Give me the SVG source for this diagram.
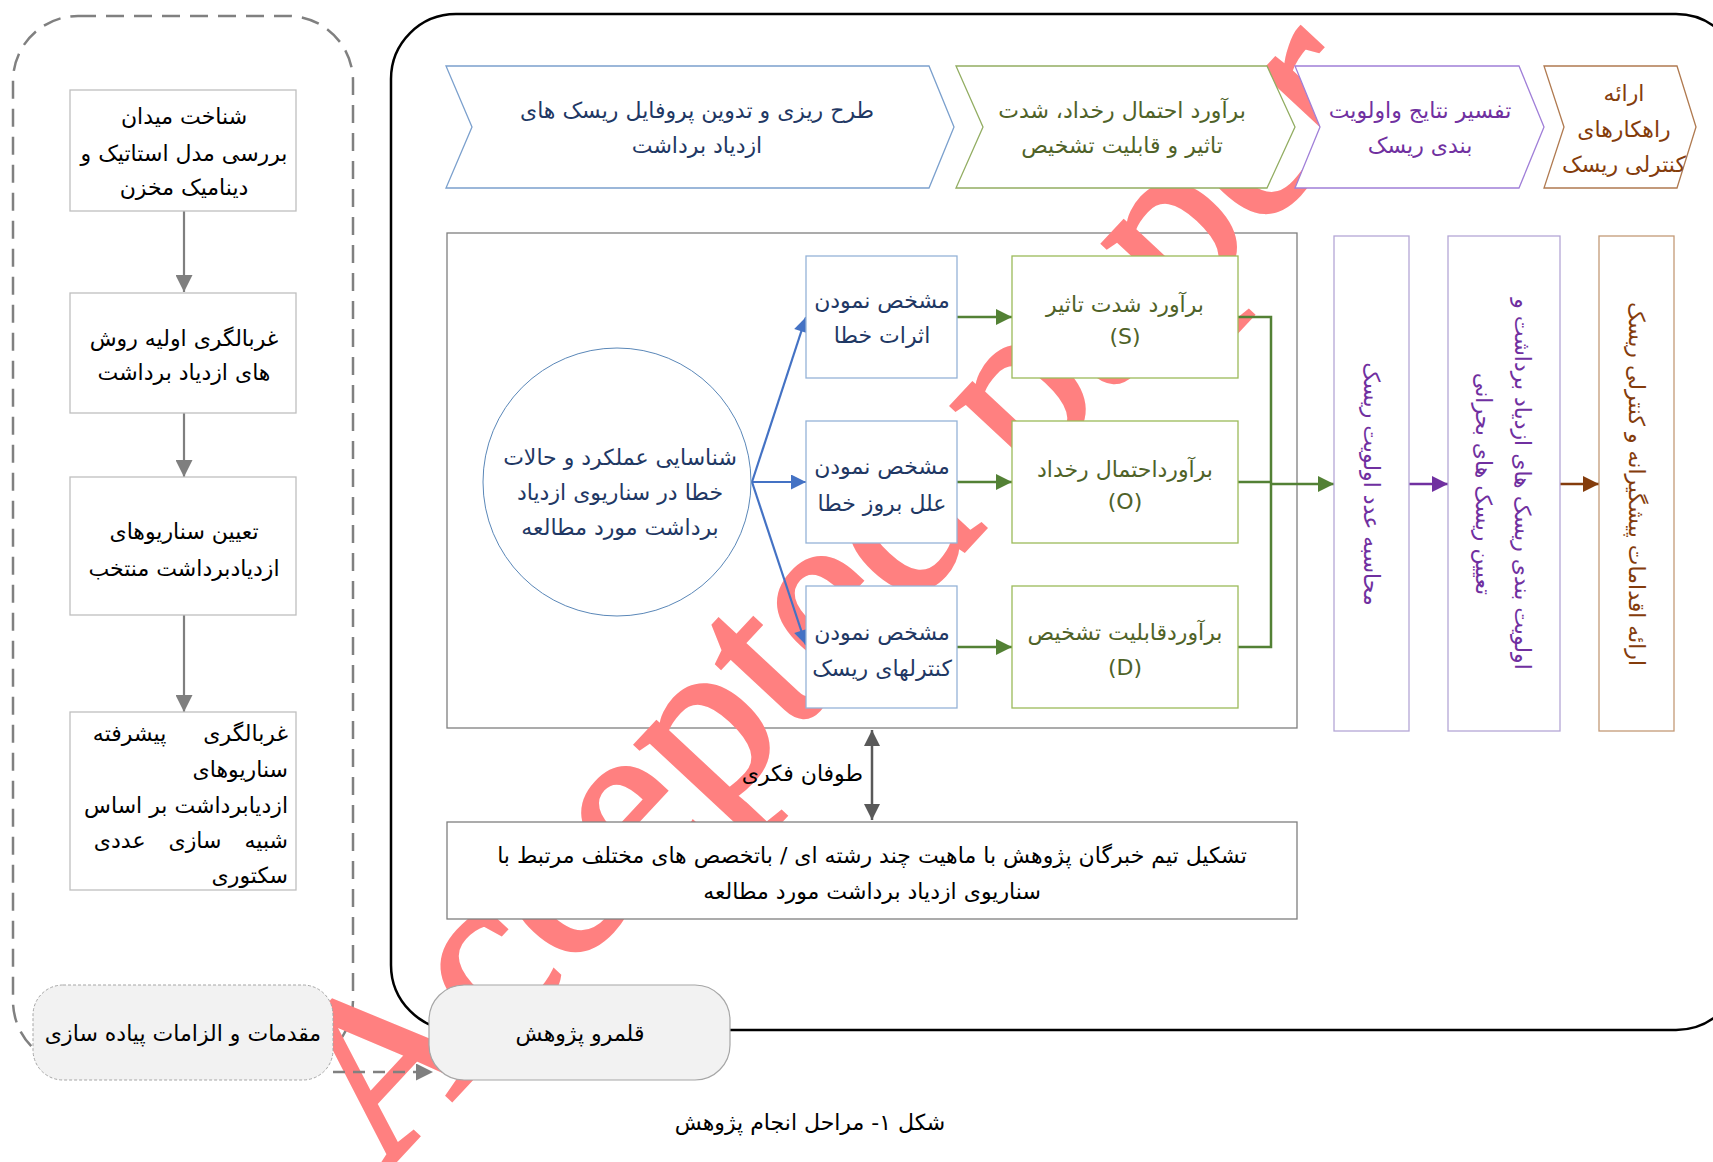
<svg xmlns="http://www.w3.org/2000/svg" width="1713" height="1162" viewBox="0 0 1713 1162">
<defs>
<style>
.fa{font-family:"DejaVu Sans","Noto Sans",sans-serif;font-size:22px;dominant-baseline:central}
.mid{text-anchor:middle}
.end{text-anchor:end}
.blk{fill:#000}
.blu{fill:#1f3864}
.grn{fill:#4f6228}
.pur{fill:#7030a0}
.brn{fill:#843c0c}
.box{fill:#fff;stroke-width:1.3}
.lbox{fill:#fff;stroke:#bfbfbf;stroke-width:1.3}
.wm{font-family:"Liberation Serif",serif;font-size:235px;fill:#ff8080;stroke:#ff8080;stroke-width:4}
</style>
<marker id="mGray" viewBox="0 0 10 10" refX="10" refY="5" markerWidth="19" markerHeight="17" markerUnits="userSpaceOnUse" orient="auto-start-reverse"><path d="M0,0L10,5L0,10z" fill="#7f7f7f"/></marker>
<marker id="mDark" viewBox="0 0 10 10" refX="10" refY="5" markerWidth="18" markerHeight="16" markerUnits="userSpaceOnUse" orient="auto-start-reverse"><path d="M0,0L10,5L0,10z" fill="#595959"/></marker>
<marker id="mBlue" viewBox="0 0 10 10" refX="10" refY="5" markerWidth="19" markerHeight="15" markerUnits="userSpaceOnUse" orient="auto"><path d="M0,0L10,5L0,10z" fill="#4472c4"/></marker>
<marker id="mGreen" viewBox="0 0 10 10" refX="10" refY="5" markerWidth="20" markerHeight="16" markerUnits="userSpaceOnUse" orient="auto"><path d="M0,0L10,5L0,10z" fill="#538135"/></marker>
<marker id="mPur" viewBox="0 0 10 10" refX="10" refY="5" markerWidth="20" markerHeight="16" markerUnits="userSpaceOnUse" orient="auto"><path d="M0,0L10,5L0,10z" fill="#7030a0"/></marker>
<marker id="mBrn" viewBox="0 0 10 10" refX="10" refY="5" markerWidth="20" markerHeight="16" markerUnits="userSpaceOnUse" orient="auto"><path d="M0,0L10,5L0,10z" fill="#843c0c"/></marker>
</defs>
<rect width="1713" height="1162" fill="#fff"/>

<g id="frames">
<rect x="391" y="14" width="1350" height="1016" rx="65" fill="none" stroke="#000" stroke-width="2.5"/>
<rect x="13" y="16" width="340" height="1050" rx="65" fill="none" stroke="#808080" stroke-width="2.5" stroke-dasharray="18 10"/>
<rect id="inner" x="447" y="233" width="850" height="495" fill="none" stroke="#7f7f7f" stroke-width="1.3"/>
</g>

<g id="watermark">
<text class="wm" x="382" y="1175" transform="rotate(-47 382 1175)">Accepted paper</text>
</g>

<g id="chevrons">
<g id="c1"><polygon points="446,66 929,66 954,127 929,188 446,188 472,127" fill="#fff" stroke="#7ba0cd" stroke-width="1.3"/>
<text class="fa mid blu" x="697" y="110" font-size="24">طرح ریزی و تدوین پروفایل ریسک های</text>
<text class="fa mid blu" x="697" y="145" font-size="24">ازدیاد برداشت</text></g>
<g id="c2"><polygon points="956,66 1267,66 1295,127 1267,188 956,188 983,127" fill="#fff" stroke="#92ad62" stroke-width="1.3"/>
<text class="fa mid grn" x="1122" y="110" font-size="24">برآورد احتمال رخداد، شدت</text>
<text class="fa mid grn" x="1122" y="145" font-size="24">تاثیر و قابلیت تشخیص</text></g>
<g id="c3"><polygon points="1295,66 1519,66 1544,127 1519,188 1295,188 1320,127" fill="#fff" stroke="#a07fd8" stroke-width="1.3"/>
<text class="fa mid pur" x="1420" y="110" font-size="24">تفسیر نتایج واولویت</text>
<text class="fa mid pur" x="1420" y="145" font-size="24">بندی ریسک</text></g>
<g id="c4"><polygon points="1544,66 1677,66 1696,127 1677,188 1544,188 1564,127" fill="#fff" stroke="#b07a50" stroke-width="1.3"/>
<text class="fa mid brn" x="1624" y="93">ارائه</text>
<text class="fa mid brn" x="1624" y="129">راهکارهای</text>
<text class="fa mid brn" x="1624" y="164">کنترلی ریسک</text></g>
</g>

<g id="connectors" fill="none">
<line x1="184" y1="211" x2="184" y2="292" stroke="#7f7f7f" stroke-width="2.2" marker-end="url(#mGray)"/>
<line x1="184" y1="413" x2="184" y2="477" stroke="#7f7f7f" stroke-width="2.2" marker-end="url(#mGray)"/>
<line x1="184" y1="615" x2="184" y2="712" stroke="#7f7f7f" stroke-width="2.2" marker-end="url(#mGray)"/>
<line x1="333" y1="1072" x2="433" y2="1072" stroke="#808080" stroke-width="2.5" stroke-dasharray="12 8" marker-end="url(#mGray)"/>
<line x1="752" y1="482" x2="806" y2="317" stroke="#4472c4" stroke-width="2.2" marker-end="url(#mBlue)"/>
<line x1="752" y1="482" x2="806" y2="482" stroke="#4472c4" stroke-width="2.2" marker-end="url(#mBlue)"/>
<line x1="752" y1="482" x2="806" y2="645" stroke="#4472c4" stroke-width="2.2" marker-end="url(#mBlue)"/>
<line x1="957" y1="317" x2="1012" y2="317" stroke="#538135" stroke-width="2.5" marker-end="url(#mGreen)"/>
<line x1="957" y1="482" x2="1012" y2="482" stroke="#538135" stroke-width="2.5" marker-end="url(#mGreen)"/>
<line x1="957" y1="647" x2="1012" y2="647" stroke="#538135" stroke-width="2.5" marker-end="url(#mGreen)"/>
<polyline points="1238,317 1271,317 1271,647 1238,647" stroke="#538135" stroke-width="2.5"/>
<line x1="1238" y1="482" x2="1271" y2="482" stroke="#538135" stroke-width="2.5"/>
<line x1="1271" y1="484" x2="1334" y2="484" stroke="#538135" stroke-width="2.5" marker-end="url(#mGreen)"/>
<line x1="1409" y1="484" x2="1448" y2="484" stroke="#7030a0" stroke-width="2.5" marker-end="url(#mPur)"/>
<line x1="1560" y1="484" x2="1599" y2="484" stroke="#843c0c" stroke-width="2.5" marker-end="url(#mBrn)"/>
<line x1="872" y1="730" x2="872" y2="820" stroke="#595959" stroke-width="2.5" marker-start="url(#mDark)" marker-end="url(#mDark)"/>
</g>
<text class="fa end blk" x="863" y="773">طوفان فکری</text>

<g id="left1"><rect class="lbox" x="70" y="90" width="226" height="121"/>
<text class="fa mid blk" x="184" y="116">شناخت میدان</text>
<text class="fa mid blk" x="184" y="153">بررسی مدل استاتیک و</text>
<text class="fa mid blk" x="184" y="187">دینامیک مخزن</text></g>
<g id="left2"><rect class="lbox" x="70" y="293" width="226" height="120"/>
<text class="fa mid blk" x="184" y="338">غربالگری اولیه روش</text>
<text class="fa mid blk" x="184" y="372">های ازدیاد برداشت</text></g>
<g id="left3"><rect class="lbox" x="70" y="477" width="226" height="138"/>
<text class="fa mid blk" x="184" y="531">تعیین سناریوهای</text>
<text class="fa mid blk" x="184" y="568">ازدیادبرداشت منتخب</text></g>
<g id="left4"><rect class="lbox" x="70" y="712" width="226" height="178"/>
<text class="fa end blk" x="288" y="733" word-spacing="30">غربالگری پیشرفته</text>
<text class="fa end blk" x="288" y="769">سناریوهای</text>
<text class="fa end blk" x="288" y="805">ازدیابرداشت بر اساس</text>
<text class="fa end blk" x="288" y="840" word-spacing="16">شبیه سازی عددی</text>
<text class="fa end blk" x="288" y="875">سکتوری</text></g>

<g id="prereq"><rect x="33" y="985" width="300" height="95" rx="30" fill="#f2f2f2" stroke="#a6a6a6" stroke-width="1" stroke-dasharray="3 2"/>
<text class="fa mid blk" x="183" y="1033" font-size="21">مقدمات و الزامات پیاده سازی</text></g>
<g id="scope"><rect x="429" y="985" width="301" height="95" rx="35" fill="#f2f2f2" stroke="#a6a6a6" stroke-width="1.2"/>
<text class="fa mid blk" x="580" y="1033">قلمرو پژوهش</text></g>

<g id="circle"><circle cx="617" cy="482" r="134" fill="#fff" stroke="#5a87b8" stroke-width="1"/>
<text class="fa mid blu" x="620" y="457">شناسایی عملکرد و حالات</text>
<text class="fa mid blu" x="620" y="492">خطا در سناریوی ازدیاد</text>
<text class="fa mid blu" x="620" y="527">برداشت مورد مطالعه</text></g>

<g id="b1"><rect class="box" x="806" y="256" width="151" height="122" stroke="#95b3d7"/>
<text class="fa mid blu" x="882" y="300">مشخص نمودن</text>
<text class="fa mid blu" x="882" y="335">اثرات خطا</text></g>
<g id="b2"><rect class="box" x="806" y="421" width="151" height="122" stroke="#95b3d7"/>
<text class="fa mid blu" x="882" y="466">مشخص نمودن</text>
<text class="fa mid blu" x="882" y="503">علل بروز خطا</text></g>
<g id="b3"><rect class="box" x="806" y="586" width="151" height="122" stroke="#95b3d7"/>
<text class="fa mid blu" x="882" y="632">مشخص نمودن</text>
<text class="fa mid blu" x="882" y="668">کنترلهای ریسک</text></g>

<g id="g1"><rect class="box" x="1012" y="256" width="226" height="122" stroke="#9bbb59"/>
<text class="fa mid grn" x="1125" y="304">برآورد شدت تاثیر</text>
<text class="fa mid grn" x="1125" y="336" font-size="24">(S)</text></g>
<g id="g2"><rect class="box" x="1012" y="421" width="226" height="122" stroke="#9bbb59"/>
<text class="fa mid grn" x="1125" y="469">برآورداحتمال رخداد</text>
<text class="fa mid grn" x="1125" y="501" font-size="24">(O)</text></g>
<g id="g3"><rect class="box" x="1012" y="586" width="226" height="122" stroke="#9bbb59"/>
<text class="fa mid grn" x="1125" y="632">برآوردقابلیت تشخیص</text>
<text class="fa mid grn" x="1125" y="667" font-size="24">(D)</text></g>

<g id="p1"><rect class="box" x="1334" y="236" width="75" height="495" stroke="#b4a7d6"/>
<text class="fa mid pur" transform="translate(1371 484) rotate(90)">محاسبه عدد اولویت ریسک</text></g>
<g id="p2"><rect class="box" x="1448" y="236" width="112" height="495" stroke="#b4a7d6"/>
<text class="fa mid pur" transform="translate(1522 484) rotate(90)">اولویت بندی ریسک های ازدیاد برداشت و</text>
<text class="fa mid pur" transform="translate(1483 484) rotate(90)">تعیین ریسک های بحرانی</text></g>
<g id="br"><rect class="box" x="1599" y="236" width="75" height="495" stroke="#c39a77"/>
<text class="fa mid brn" transform="translate(1636 484) rotate(90)">ارائه اقدامات پیشگیرانه و کنترلی ریسک</text></g>

<g id="team"><rect class="box" x="447" y="822" width="850" height="97" stroke="#7f7f7f"/>
<text class="fa mid blk" x="872" y="855">تشکیل تیم خبرگان پژوهش با ماهیت چند رشته ای / باتخصص های مختلف مرتبط با</text>
<text class="fa mid blk" x="872" y="891">سناریوی ازدیاد برداشت مورد مطالعه</text></g>

<text id="caption" class="fa mid blk" x="810" y="1122" font-size="28">شکل ۱- مراحل انجام پژوهش</text>
</svg>
